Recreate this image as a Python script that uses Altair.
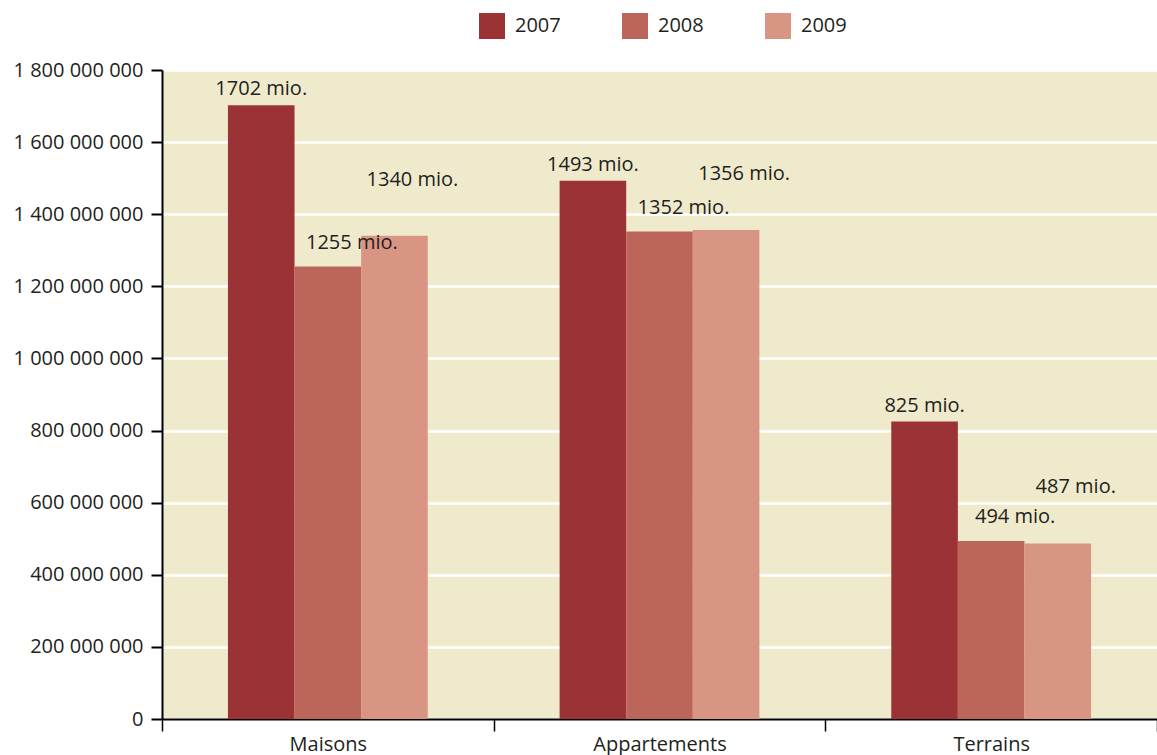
import altair as alt
import pandas as pd

categories = ["Maisons", "Appartements", "Terrains"]
years = ["2007", "2008", "2009"]
values_2007 = [1702, 1493, 825]
values_2008 = [1255, 1352, 494]
values_2009 = [1340, 1356, 487]
colors = ["#9B3336", "#BC655A", "#D99583"]
y_ticks = [0, 200000000, 400000000, 600000000, 800000000, 1000000000,
           1200000000, 1400000000, 1600000000, 1800000000]
# labels of each series are staggered so they do not collide
label_lift = {"2007": -10, "2008": -18, "2009": -50}
label_shift = {"2007": 0, "2008": 24, "2009": 18}

rows = []
for year, vals in zip(years, [values_2007, values_2008, values_2009]):
    for cat, v in zip(categories, vals):
        rows.append({"category": cat, "year": year, "value": v * 1_000_000,
                     "label": f"{v} mio."})
df = pd.DataFrame(rows)

FONT = "Open Sans"
TXT = "#231F20"

x = alt.X("category:N", sort=categories, title=None,
          scale=alt.Scale(paddingInner=0, paddingOuter=0),
          axis=alt.Axis(labelAngle=0, labelFont=FONT, labelFontSize=20, labelColor=TXT,
                        domainColor="#000000", domainWidth=2, tickColor="#000000",
                        tickWidth=1.5, tickSize=12, tickBand="extent", labelPadding=3,
                        grid=False))
xoff = alt.XOffset("year:N", sort=years, scale=alt.Scale(paddingInner=0, paddingOuter=0.99))
y = alt.Y("value:Q", title=None,
          scale=alt.Scale(domain=[0, 1800000000], nice=False),
          axis=alt.Axis(values=y_ticks, labelFont=FONT, labelFontSize=20, labelColor=TXT,
                        labelExpr="replace(format(datum.value, ',d'), regexp(',', 'g'), ' ')",
                        domainColor="#000000", domainWidth=2, tickColor="#000000",
                        tickWidth=2, tickSize=11, labelPadding=8,
                        grid=True, gridColor="#FFFFFF", gridWidth=2.5, gridOpacity=1))

bars = alt.Chart(df).mark_bar(opacity=1).encode(
    x=x, xOffset=xoff, y=y,
    color=alt.Color("year:N", sort=years,
                    scale=alt.Scale(domain=years, range=colors),
                    legend=alt.Legend(orient="none", legendX=317, legendY=-57,
                                      direction="horizontal", title=None,
                                      symbolType="square", symbolSize=676,
                                      symbolStrokeWidth=0, symbolOpacity=1,
                                      labelFont=FONT, labelFontSize=20, labelColor=TXT,
                                      labelOffset=10, columnPadding=61)),
)

label_layers = []
for year in years:
    label_layers.append(
        alt.Chart(df).transform_filter(alt.datum.year == year)
        .mark_text(font=FONT, fontSize=20, color=TXT, baseline="alphabetic",
                   dy=label_lift[year], dx=label_shift[year])
        .encode(x=alt.X("category:N", sort=categories),
                xOffset=alt.XOffset("year:N", sort=years),
                y="value:Q", text="label:N")
    )

chart = alt.layer(bars, *label_layers).properties(
    width=995, height=649,
    autosize=alt.AutoSizeParams(type="none"),
    padding={"left": 162, "top": 70, "right": 0, "bottom": 40},
    background="#FFFFFF",
).configure_view(fill="#F0EACD", strokeWidth=0)

chart.save("out.html", embed_options={"renderer": "svg", "actions": False})
